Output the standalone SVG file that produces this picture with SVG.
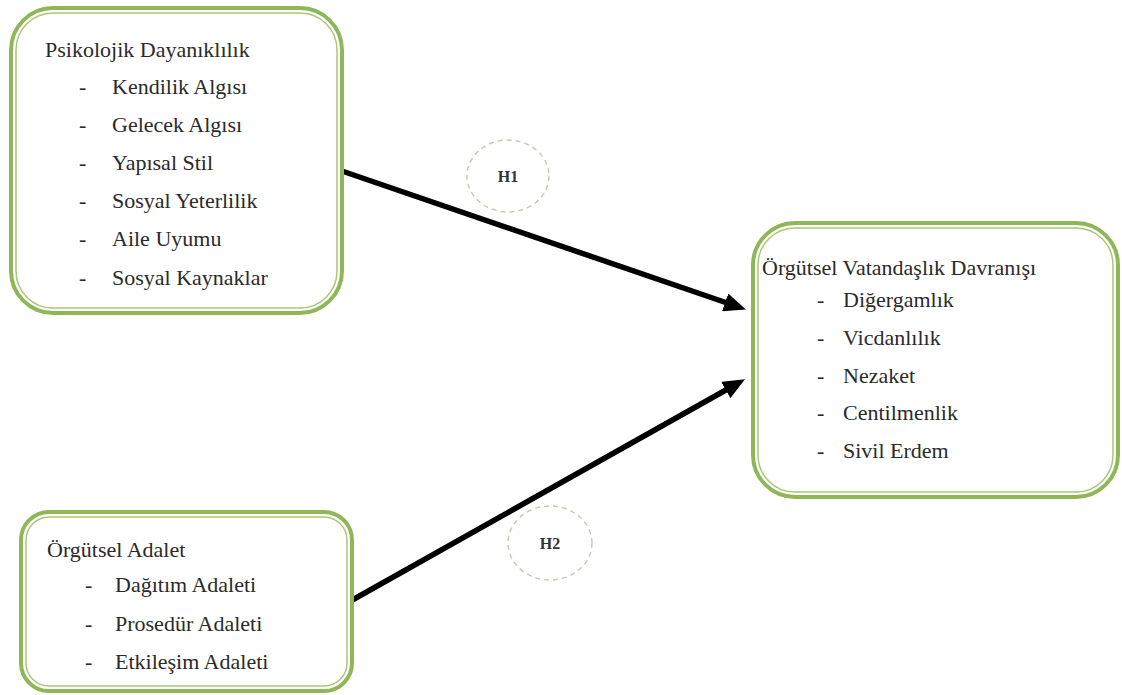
<svg xmlns="http://www.w3.org/2000/svg" width="1122" height="695" viewBox="0 0 1122 695">
<defs>
<style>
.outer{fill:#fff;stroke:#8fb657;stroke-width:4}
.inner{fill:none;stroke:#a9c77a;stroke-width:1.5}
.t{font-size:22px;fill:#2a2a2a}
.h{font-size:16px;font-weight:bold;fill:#333}
.hc{fill:none;stroke:#c9cbb4;stroke-width:1.5;stroke-dasharray:5 4}
.conn{stroke:#000;stroke-width:5.5;fill:none}
</style>
<marker id="ah" markerWidth="4" markerHeight="3.4" refX="1.5" refY="1.7" orient="auto" markerUnits="strokeWidth">
<path d="M0,0 L4,1.7 L0,3.4 Z" fill="#000"/>
</marker>
</defs>
<rect width="1122" height="695" fill="#fff"/>
<g id="connectors">
<line class="conn" x1="339" y1="170" x2="733" y2="305" marker-end="url(#ah)"/>
<line class="conn" x1="347" y1="603" x2="733" y2="386" marker-end="url(#ah)"/>
</g>
<g font-family="'Liberation Serif', 'DejaVu Serif', serif">
<g id="h1">
<ellipse class="hc" cx="508" cy="176" rx="41" ry="36"/>
<text class="h" x="508" y="182" text-anchor="middle">H1</text>
</g>
<g id="h2">
<ellipse class="hc" cx="550" cy="543" rx="42" ry="37"/>
<text class="h" x="550" y="549" text-anchor="middle">H2</text>
</g>
<g id="psikolojik">
<rect class="outer" x="11" y="8" width="331" height="305" rx="42"/>
<rect class="inner" x="16" y="13" width="321" height="295" rx="37"/>
<text class="t" x="45" y="57">Psikolojik Dayanıklılık</text>
<text class="t" x="79" y="94">-</text><text class="t" x="112" y="94">Kendilik Algısı</text>
<text class="t" x="79" y="132">-</text><text class="t" x="112" y="132">Gelecek Algısı</text>
<text class="t" x="79" y="170">-</text><text class="t" x="112" y="170">Yapısal Stil</text>
<text class="t" x="79" y="208">-</text><text class="t" x="112" y="208">Sosyal Yeterlilik</text>
<text class="t" x="79" y="246">-</text><text class="t" x="112" y="246">Aile Uyumu</text>
<text class="t" x="79" y="285">-</text><text class="t" x="112" y="285">Sosyal Kaynaklar</text>
</g>
<g id="ovd">
<rect class="outer" x="753" y="223" width="365" height="274" rx="42"/>
<rect class="inner" x="758" y="228" width="355" height="264" rx="37"/>
<text class="t" x="762" y="275">Örgütsel Vatandaşlık Davranışı</text>
<text class="t" x="817" y="307">-</text><text class="t" x="843" y="307">Diğergamlık</text>
<text class="t" x="817" y="345">-</text><text class="t" x="843" y="345">Vicdanlılık</text>
<text class="t" x="817" y="383">-</text><text class="t" x="843" y="383">Nezaket</text>
<text class="t" x="817" y="420">-</text><text class="t" x="843" y="420">Centilmenlik</text>
<text class="t" x="817" y="458">-</text><text class="t" x="843" y="458">Sivil Erdem</text>
</g>
<g id="adalet">
<rect class="outer" x="21" y="512" width="331" height="179" rx="28"/>
<rect class="inner" x="26" y="517" width="321" height="169" rx="23"/>
<text class="t" x="47" y="557">Örgütsel Adalet</text>
<text class="t" x="85" y="592">-</text><text class="t" x="115" y="592">Dağıtım Adaleti</text>
<text class="t" x="85" y="631">-</text><text class="t" x="115" y="631">Prosedür Adaleti</text>
<text class="t" x="85" y="669">-</text><text class="t" x="115" y="669">Etkileşim Adaleti</text>
</g>
</g>
</svg>
